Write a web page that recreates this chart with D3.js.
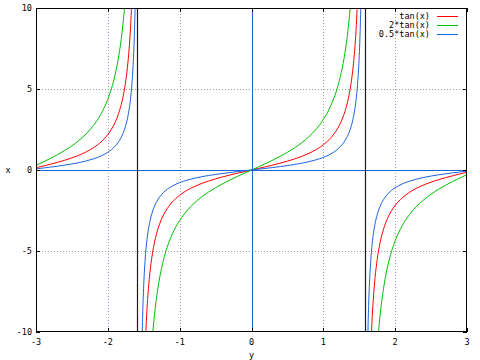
<!DOCTYPE html>
<html>
<head>
<meta charset="utf-8">
<script src="https://cdn.jsdelivr.net/npm/d3@7/dist/d3.min.js"></script>
<style>
html,body{margin:0;padding:0;background:#fff;}
svg{display:block;}
text{font-family:"DejaVu Sans Mono","Liberation Mono",monospace;font-size:8.5px;fill:#000;}
</style>
</head>
<body>
<svg id="chart" width="480" height="360"></svg>
<script>
// ---- data ----
const xTicks = [-3, -2, -1, 0, 1, 2, 3];
const yTicks = [-10, -5, 0, 5, 10];
const xTickLabels = ["-3", "-2", "-1", "0", "1", "2", "3"];
const yTickLabels = ["-10", "-5", "0", "5", "10"];
const seriesNames = ["tan(x)", "2*tan(x)", "0.5*tan(x)"];
const asymptoteX = [-1.59, 1.58];

const xLeft = [-3.0, -2.9, -2.8, -2.7, -2.6, -2.5, -2.4, -2.3, -2.2, -2.1, -2.0, -1.95, -1.9, -1.85, -1.8, -1.78, -1.75, -1.72, -1.7, -1.68, -1.66, -1.65, -1.64, -1.63, -1.62, -1.61, -1.6, -1.59, -1.58];
const xMid = [-1.56, -1.55, -1.54, -1.53, -1.52, -1.51, -1.5, -1.49, -1.48, -1.47, -1.46, -1.45, -1.42, -1.4, -1.38, -1.35, -1.32, -1.3, -1.25, -1.2, -1.15, -1.1, -1.05, -1.0, -0.9, -0.8, -0.7, -0.6, -0.5, -0.4, -0.3, -0.2, -0.1, 0,
  0.1, 0.2, 0.3, 0.4, 0.5, 0.6, 0.7, 0.8, 0.9, 1.0, 1.05, 1.1, 1.15, 1.2, 1.25, 1.3, 1.32, 1.35, 1.38, 1.4, 1.42, 1.45, 1.46, 1.47, 1.48, 1.49, 1.5, 1.51, 1.52, 1.53, 1.54, 1.55, 1.56];
const xRight = [1.58, 1.59, 1.6, 1.61, 1.62, 1.63, 1.64, 1.65, 1.66, 1.68, 1.7, 1.72, 1.75, 1.78, 1.8, 1.85, 1.9, 1.95, 2.0, 2.1, 2.2, 2.3, 2.4, 2.5, 2.6, 2.7, 2.8, 2.9, 3.0];

const tanLeft = [0.143, 0.246, 0.356, 0.473, 0.602, 0.747, 0.916, 1.119, 1.374, 1.710, 2.185, 2.510, 2.927, 3.488, 4.286, 4.710, 5.520, 6.652, 7.697, 9.121, 11.18, 12.60, 14.43, 16.87, 20.31, 25.49, 34.23, 52.07, 108.6];
const tanMid = [-92.62, -48.08, -32.46, -24.50, -19.67, -16.43, -14.10, -12.35, -10.98, -9.887, -8.989, -8.238, -6.581, -5.798, -5.177, -4.455, -3.903, -3.602, -3.010, -2.572, -2.232, -1.965, -1.743, -1.557, -1.260, -1.030, -0.842, -0.684, -0.546, -0.423, -0.309, -0.203, -0.100, 0,
  0.100, 0.203, 0.309, 0.423, 0.546, 0.684, 0.842, 1.030, 1.260, 1.557, 1.743, 1.965, 2.232, 2.572, 3.010, 3.602, 3.903, 4.455, 5.177, 5.798, 6.581, 8.238, 8.989, 9.887, 10.98, 12.35, 14.10, 16.43, 19.67, 24.50, 32.46, 48.08, 92.62];
const tanRight = [-108.6, -52.07, -34.23, -25.49, -20.31, -16.87, -14.43, -12.60, -11.18, -9.121, -7.697, -6.652, -5.520, -4.710, -4.286, -3.488, -2.927, -2.510, -2.185, -1.710, -1.374, -1.119, -0.916, -0.747, -0.602, -0.473, -0.356, -0.246, -0.143];

const dblLeft = [0.285, 0.492, 0.711, 0.945, 1.203, 1.494, 1.832, 2.238, 2.748, 3.420, 4.370, 5.019, 5.854, 6.976, 8.573, 9.420, 11.04, 13.30, 15.39, 18.24, 22.36, 25.20, 28.85, 33.74, 40.62, 50.99, 68.46, 104.1, 217.3];
const dblMid = [-185.2, -96.16, -64.92, -49.00, -39.34, -32.86, -28.20, -24.70, -21.97, -19.77, -17.98, -16.48, -13.16, -11.60, -10.35, -8.910, -7.807, -7.204, -6.019, -5.144, -4.464, -3.930, -3.487, -3.115, -2.520, -2.059, -1.685, -1.368, -1.093, -0.846, -0.619, -0.405, -0.201, 0,
  0.201, 0.405, 0.619, 0.846, 1.093, 1.368, 1.685, 2.059, 2.520, 3.115, 3.487, 3.930, 4.464, 5.144, 6.019, 7.204, 7.807, 8.910, 10.35, 11.60, 13.16, 16.48, 17.98, 19.77, 21.97, 24.70, 28.20, 32.86, 39.34, 49.00, 64.92, 96.16, 185.2];
const dblRight = [-217.3, -104.1, -68.46, -50.99, -40.62, -33.74, -28.85, -25.20, -22.36, -18.24, -15.39, -13.30, -11.04, -9.420, -8.573, -6.976, -5.854, -5.019, -4.370, -3.420, -2.748, -2.238, -1.832, -1.494, -1.203, -0.945, -0.711, -0.492, -0.285];

const halfLeft = [0.071, 0.123, 0.178, 0.236, 0.301, 0.374, 0.458, 0.560, 0.687, 0.855, 1.093, 1.255, 1.464, 1.744, 2.143, 2.355, 2.760, 3.326, 3.848, 4.560, 5.590, 6.300, 7.214, 8.436, 10.16, 12.75, 17.12, 26.04, 54.33];
const halfMid = [-46.31, -24.04, -16.23, -12.25, -9.835, -8.214, -7.050, -6.175, -5.492, -4.944, -4.494, -4.119, -3.291, -2.899, -2.589, -2.228, -1.952, -1.801, -1.505, -1.286, -1.116, -0.982, -0.872, -0.779, -0.630, -0.515, -0.421, -0.342, -0.273, -0.211, -0.155, -0.101, -0.050, 0,
  0.050, 0.101, 0.155, 0.211, 0.273, 0.342, 0.421, 0.515, 0.630, 0.779, 0.872, 0.982, 1.116, 1.286, 1.505, 1.801, 1.952, 2.228, 2.589, 2.899, 3.291, 4.119, 4.494, 4.944, 5.492, 6.175, 7.050, 8.214, 9.835, 12.25, 16.23, 24.04, 46.31];
const halfRight = [-54.33, -26.04, -17.12, -12.75, -10.16, -8.436, -7.214, -6.300, -5.590, -4.560, -3.848, -3.326, -2.760, -2.355, -2.143, -1.744, -1.464, -1.255, -1.093, -0.855, -0.687, -0.560, -0.458, -0.374, -0.301, -0.236, -0.178, -0.123, -0.071];

// ---- layout ----
const W = 480, H = 360;
const L = 36, R = 467, T = 8, B = 332;
const colors = ["#ff0000", "#00c000", "#1a64dc"];
const zeroColor = "#1a64dc";

const svg = d3.select("#chart");
const x = d3.scaleLinear().domain([-3, 3]).range([L, R]);
const y = d3.scaleLinear().domain([-10, 10]).range([B, T]);

svg.append("defs").append("clipPath").attr("id", "clip")
  .append("rect").attr("x", L).attr("y", T).attr("width", R - L).attr("height", B - T);

// grid
const g = svg.append("g");
g.selectAll("line.vgrid").data(xTicks.filter(v => v !== 0 && Math.abs(v) !== 3)).enter()
  .append("line")
  .attr("x1", d => Math.round(x(d)) + 0.5).attr("x2", d => Math.round(x(d)) + 0.5)
  .attr("y1", T).attr("y2", B)
  .attr("stroke", d => Math.abs(d) === 2 ? "#c090c8" : "#98a898")
  .attr("stroke-width", 1).attr("stroke-dasharray", "1,2");
g.selectAll("line.hgrid").data(yTicks.filter(v => v !== 0 && Math.abs(v) !== 10)).enter()
  .append("line")
  .attr("y1", d => Math.round(y(d)) + 0.5).attr("y2", d => Math.round(y(d)) + 0.5)
  .attr("x1", L).attr("x2", R)
  .attr("stroke", "#98a898").attr("stroke-width", 1).attr("stroke-dasharray", "1,2");

// zero axes
svg.append("line").attr("x1", L).attr("x2", R)
  .attr("y1", Math.round(y(0)) + 0.5).attr("y2", Math.round(y(0)) + 0.5)
  .attr("stroke", zeroColor).attr("stroke-width", 1);
svg.append("line").attr("y1", T).attr("y2", B)
  .attr("x1", Math.round(x(0)) + 0.5).attr("x2", Math.round(x(0)) + 0.5)
  .attr("stroke", zeroColor).attr("stroke-width", 1);

// asymptote jump lines
svg.selectAll("line.asym").data(asymptoteX).enter().append("line")
  .attr("x1", d => Math.round(x(d)) + 0.5).attr("x2", d => Math.round(x(d)) + 0.5)
  .attr("y1", T).attr("y2", B)
  .attr("stroke", "#1c1c1c").attr("stroke-width", 1.2);

// curves
const series = [
  [[xLeft, tanLeft], [xMid, tanMid], [xRight, tanRight]],
  [[xLeft, dblLeft], [xMid, dblMid], [xRight, dblRight]],
  [[xLeft, halfLeft], [xMid, halfMid], [xRight, halfRight]]
];
const line = d3.line().x(d => x(d[0])).y(d => y(d[1])).curve(d3.curveMonotoneX);
const curves = svg.append("g").attr("clip-path", "url(#clip)");
series.forEach((branches, i) => {
  branches.forEach(([xs, ys]) => {
    curves.append("path")
      .datum(xs.map((v, k) => [v, ys[k]]))
      .attr("d", line)
      .attr("fill", "none")
      .attr("stroke", colors[i])
      .attr("stroke-width", 1);
  });
});

// border
svg.append("rect").attr("x", L + 0.5).attr("y", T + 0.5)
  .attr("width", R - L - 1).attr("height", B - T - 1)
  .attr("fill", "none").attr("stroke", "#000").attr("stroke-width", 1);

// ticks (inside, mirrored)
const tl = 4;
xTicks.forEach(v => {
  const px = Math.round(x(v)) + 0.5;
  svg.append("line").attr("x1", px).attr("x2", px).attr("y1", B).attr("y2", B - tl).attr("stroke", "#000");
  svg.append("line").attr("x1", px).attr("x2", px).attr("y1", T).attr("y2", T + tl).attr("stroke", "#000");
});
yTicks.forEach(v => {
  const py = Math.round(y(v)) + 0.5;
  svg.append("line").attr("y1", py).attr("y2", py).attr("x1", L).attr("x2", L + tl).attr("stroke", "#000");
  svg.append("line").attr("y1", py).attr("y2", py).attr("x1", R).attr("x2", R - tl).attr("stroke", "#000");
});

// tick labels
svg.selectAll("text.xt").data(xTicks).enter().append("text")
  .attr("x", d => x(d)).attr("y", B + 13)
  .attr("text-anchor", "middle")
  .text((d, i) => xTickLabels[i]);
svg.selectAll("text.yt").data(yTicks).enter().append("text")
  .attr("x", L - 4).attr("y", d => y(d) + 3)
  .attr("text-anchor", "end")
  .text((d, i) => yTickLabels[i]);

// axis labels
svg.append("text").attr("x", (L + R) / 2).attr("y", 358).attr("text-anchor", "middle").text("y");
svg.append("text").attr("x", 8).attr("y", (T + B) / 2 + 3).attr("text-anchor", "middle").text("x");

// legend
const lg = svg.append("g");
seriesNames.forEach((name, i) => {
  const ly = 16 + i * 9;
  lg.append("text").attr("x", 430).attr("y", ly + 3).attr("text-anchor", "end").text(name);
  lg.append("line").attr("x1", 437).attr("x2", 458).attr("y1", ly + 0.5).attr("y2", ly + 0.5)
    .attr("stroke", colors[i]).attr("stroke-width", 1);
});
</script>
</body>
</html>
